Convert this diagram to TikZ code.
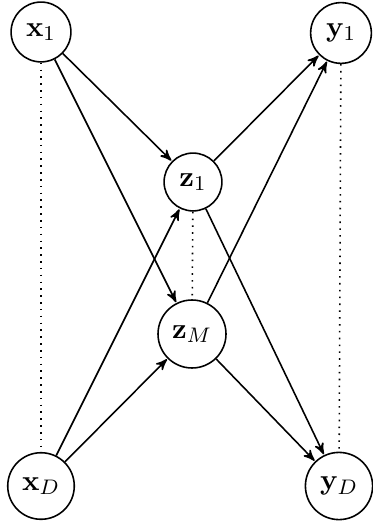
\documentclass[tikz,border=0pt]{standalone}
\usetikzlibrary{arrows}
\begin{document}
\begin{tikzpicture}[x=0.3802pt,y=-0.3802pt,
  var/.style={circle,draw,line width=0.6pt,inner sep=3.5pt,font=\fontsize{11}{13}\selectfont},
  edge/.style={->,>=stealth',line width=0.6pt,shorten >=0.3pt},
  link/.style={dotted,line width=0.6pt}]
\useasboundingbox (0,0) rectangle (372,523);
\node[var] (x1) at (41,32) {$\mathbf{x}_1$};
\node[var] (y1) at (341,33) {$\mathbf{y}_1$};
\node[var] (z1) at (193,182) {$\mathbf{z}_1$};
\node[var] (zM) at (192,334) {$\mathbf{z}_M$};
\node[var] (xD) at (41,486) {$\mathbf{x}_D$};
\node[var] (yD) at (339,486) {$\mathbf{y}_D$};
\draw[link] (x1) -- (xD);
\draw[link] (z1) -- (zM);
\draw[link] (y1) -- (yD);
\draw[edge] (x1) -- (z1);
\draw[edge] (x1) -- (zM);
\draw[edge] (xD) -- (z1);
\draw[edge] (xD) -- (zM);
\draw[edge] (z1) -- (y1);
\draw[edge] (zM) -- (y1);
\draw[edge] (z1) -- (yD);
\draw[edge] (zM) -- (yD);
\end{tikzpicture}
\end{document}
